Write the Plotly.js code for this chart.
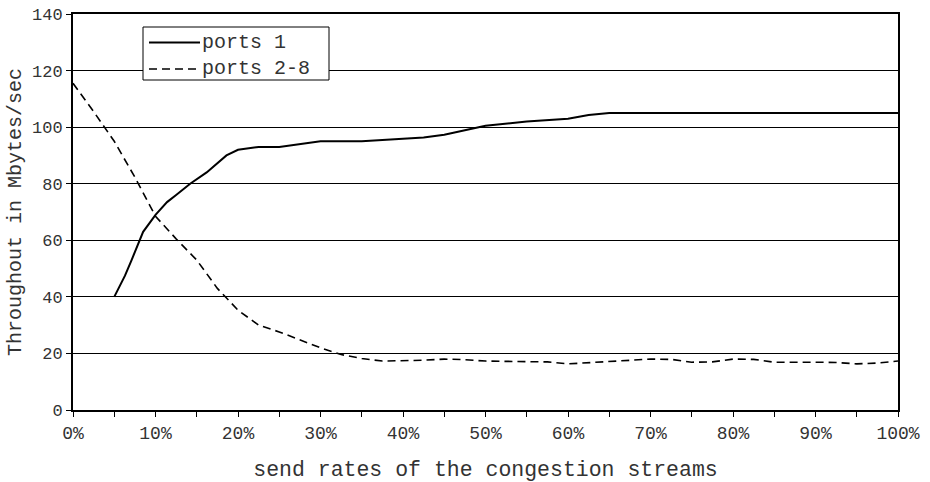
<!DOCTYPE html>
<html>
<head>
<meta charset="utf-8">
<script src="https://cdn.plot.ly/plotly-3.0.1.min.js"></script>
<style>html,body{margin:0;padding:0;background:#fff;}#chart{width:930px;height:482px;}</style>
</head>
<body>
<div id="chart"></div>
<script>
// send rate (%) and throughput (Mbytes/sec)
const ratesPort1 = [5, 6.3, 7.1, 8.5, 10, 11.4, 12.5, 14.2, 16.2, 18.6, 20, 22.5, 25, 30, 35, 40, 42.5, 45, 47.5, 50, 55, 60, 62.5, 65, 70, 75, 80, 85, 90, 95, 100];
const throughputPort1 = [40, 47.5, 53, 63, 69, 73.5, 76, 80, 84, 90, 92, 93, 93, 95, 95, 95.7, 96.3, 97.3, 98.8, 100.5, 102, 103, 104.3, 105, 105, 105, 105, 105, 105, 105, 105];
const ratesPorts28 = [0, 2.5, 5, 7.5, 10, 12.5, 15, 17.5, 20, 22.5, 25, 30, 32.5, 35, 37.5, 40, 42.5, 45, 47.5, 50, 55, 57.5, 60, 62.5, 65, 70, 72.5, 75, 77.5, 80, 82.5, 85, 90, 92.5, 95, 97.5, 100];
const throughputPorts28 = [115.5, 105.5, 95, 82.3, 68.5, 60.5, 53, 43, 35.3, 30, 27.6, 22, 19.6, 18.2, 17.3, 17.4, 17.6, 18, 17.8, 17.3, 17.1, 17, 16.3, 16.7, 17.2, 18, 17.9, 16.9, 17, 18, 17.9, 16.9, 16.9, 16.8, 16.3, 16.6, 17.3];
const seriesNames = ['ports 1', 'ports 2-8'];
const xTitle = 'send rates of the congestion streams';
const yTitle = 'Throughout in Mbytes/sec';

const FONT = '"Liberation Mono", "Courier New", monospace';
const INK = '#333';
const W = 930, H = 482;
const M = {l: 73, r: 32, t: 14, b: 72};
const PW = W - M.l - M.r, PH = H - M.t - M.b;
const px2x = p => (p - M.l) / PW;
const px2y = p => (H - M.b - p) / PH;

const traces = [
  {x: ratesPort1, y: throughputPort1, name: seriesNames[0], type: 'scatter', mode: 'lines',
   line: {color: '#000', width: 2}},
  {x: ratesPorts28, y: throughputPorts28, name: seriesNames[1], type: 'scatter', mode: 'lines',
   line: {color: '#000', width: 1.6, dash: '8px,5px'}}
];

// legend box drawn in paper space
const legendShapes = [
  {type: 'rect', xref: 'paper', yref: 'paper', x0: px2x(143), x1: px2x(329), y0: px2y(80), y1: px2y(27),
   line: {color: '#000', width: 1}, fillcolor: '#fff', layer: 'above'},
  {type: 'line', xref: 'paper', yref: 'paper', x0: px2x(149), x1: px2x(200), y0: px2y(42.5), y1: px2y(42.5),
   line: {color: '#000', width: 2}, layer: 'above'},
  {type: 'line', xref: 'paper', yref: 'paper', x0: px2x(149), x1: px2x(200), y0: px2y(69), y1: px2y(69),
   line: {color: '#000', width: 1.6, dash: '8px,5px'}, layer: 'above'}
];
const legendTexts = [
  {xref: 'paper', yref: 'paper', x: px2x(200), y: px2y(42.5), xanchor: 'left', yanchor: 'middle',
   text: seriesNames[0], showarrow: false, font: {family: FONT, size: 20, color: INK}},
  {xref: 'paper', yref: 'paper', x: px2x(200), y: px2y(69), xanchor: 'left', yanchor: 'middle',
   text: seriesNames[1], showarrow: false, font: {family: FONT, size: 20, color: INK}}
];

const layout = {
  width: W, height: H,
  margin: M,
  paper_bgcolor: '#fff', plot_bgcolor: '#fff',
  font: {family: FONT, color: INK},
  showlegend: false,
  shapes: legendShapes,
  annotations: legendTexts,
  xaxis: {
    range: [0, 100], dtick: 10, tick0: 0, ticksuffix: '%',
    showgrid: false, zeroline: false,
    showline: true, linecolor: '#000', linewidth: 2, mirror: true,
    ticks: 'outside', ticklen: 5, tickcolor: '#000', tickwidth: 1,
    minor: {dtick: 5, ticks: 'outside', ticklen: 5, tickcolor: '#000', tickwidth: 1, showgrid: false},
    tickfont: {family: FONT, size: 18, color: INK},
    title: {text: xTitle, font: {family: FONT, size: 21.5, color: INK}, standoff: 20}
  },
  yaxis: {
    range: [0, 140], dtick: 20, tick0: 0,
    showgrid: true, gridcolor: '#000', gridwidth: 1, zeroline: false,
    showline: true, linecolor: '#000', linewidth: 2, mirror: true,
    ticks: 'outside', ticklen: 5, tickcolor: '#000', tickwidth: 1,
    tickfont: {family: FONT, size: 17, color: INK},
    title: {text: yTitle, font: {family: FONT, size: 20, color: INK}, standoff: 5}
  }
};

Plotly.newPlot('chart', traces, layout, {displayModeBar: false, staticPlot: true});
</script>
</body>
</html>
